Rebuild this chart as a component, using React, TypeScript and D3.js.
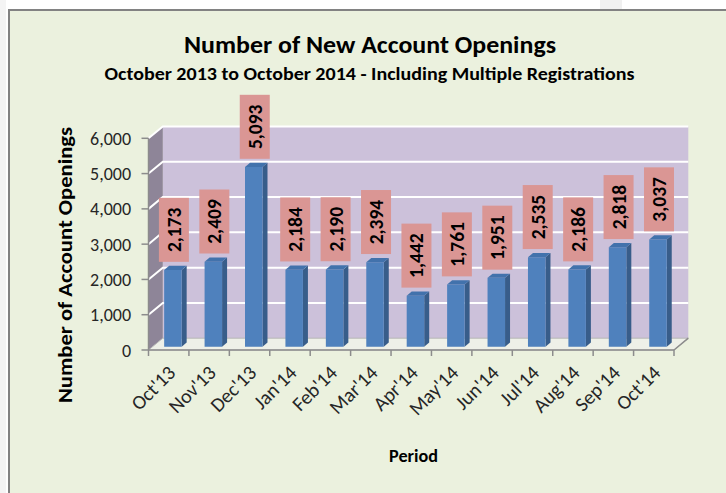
import React from "react";
import * as d3 from "d3";

const categories = ["Oct'13","Nov'13","Dec'13","Jan'14","Feb'14","Mar'14","Apr'14","May'14","Jun'14","Jul'14","Aug'14","Sep'14","Oct'14"];
const values = [2173, 2409, 5093, 2184, 2190, 2394, 1442, 1761, 1951, 2535, 2186, 2818, 3037];
const yTicks = [0, 1000, 2000, 3000, 4000, 5000, 6000];
const titleText = "Number of New Account Openings";
const subtitleText = "October 2013 to October 2014 - Including Multiple Registrations";
const yTitle = "Number of Account Openings";
const xTitle = "Period";

const W = 726, H = 493;
const FONT = "Carlito, Lato, 'Open Sans', sans-serif";

export default function App() {
  const x0 = 148.5, x1 = 674;
  const y0 = 350, yTop = 138.3;
  const DX = 14.3, DY = -11.8;
  const x = d3.scaleBand<string>().domain(categories).range([x0, x1]).padding(0);
  const y = d3.scaleLinear().domain([0, 6000]).range([y0, yTop]);
  const fmt = d3.format(",");

  const bOffX = 4.2, bOffY = -3.3;
  const bDepthX = 5, bDepthY = -4.2;
  const bw = 17.5;

  return (
    <svg width={W} height={H} style={{ position: "absolute", left: 0, top: 0 }} xmlns="http://www.w3.org/2000/svg">
      <rect x={0} y={0} width={W} height={H} fill="#ffffff" />
      <rect x={0} y={0} width={6} height={H} fill="#f4f4f4" />
      <rect x={600} y={0} width={22} height={22} fill="#f0f0f0" />
      <rect x={9} y={10} width={W + 20} height={H + 20} fill="#EBF1DE" stroke="#828282" strokeWidth={2} />

      <text x={370} y={53} textAnchor="middle" fontFamily={FONT} fontWeight="bold" fontSize={25} fill="#000" textLength={372} lengthAdjust="spacingAndGlyphs">{titleText}</text>
      <text x={369.5} y={80} textAnchor="middle" fontFamily={FONT} fontWeight="bold" fontSize={18.5} fill="#000" textLength={530} lengthAdjust="spacingAndGlyphs">{subtitleText}</text>

      <rect x={x0 + DX} y={yTop + DY} width={x1 - x0} height={y0 - yTop} fill="#CCC1DA" />
      <polygon points={`${x0},${y0} ${x0},${yTop} ${x0 + DX},${yTop + DY} ${x0 + DX},${y0 + DY}`} fill="#8E8598" />
      <polygon points={`${x0},${y0} ${x1},${y0} ${x1 + DX},${y0 + DY} ${x0 + DX},${y0 + DY}`} fill="#EEF0E8" stroke="#B5B5B5" strokeWidth={1} />

      {yTicks.filter(t => t > 0).map(t => (
        <polyline key={t} points={`${x0},${y(t)} ${x0 + DX},${y(t) + DY} ${x1 + DX},${y(t) + DY}`} fill="none" stroke="#ffffff" strokeWidth={2} />
      ))}

      <line x1={x0} x2={x0} y1={y0} y2={yTop} stroke="#8C8C8C" strokeWidth={1.5} />
      {yTicks.map(t => (
        <g key={t}>
          <line x1={x0 - 7} x2={x0} y1={y(t)} y2={y(t)} stroke="#8C8C8C" strokeWidth={1.5} />
          <text x={131} y={y(t) + 6.5} textAnchor="end" fontFamily={FONT} fontSize={18} fill="#262626">{fmt(t)}</text>
        </g>
      ))}

      <line x1={x0} x2={x1} y1={y0} y2={y0} stroke="#8C8C8C" strokeWidth={1.5} />
      <line x1={x1} x2={x1 + DX} y1={y0} y2={y0 + DY} stroke="#8C8C8C" strokeWidth={1.5} />
      {categories.map((c, i) => (
        <line key={"t" + i} x1={x(c)!} x2={x(c)!} y1={y0} y2={y0 + 6} stroke="#8C8C8C" strokeWidth={1.5} />
      ))}
      <line x1={x1} x2={x1} y1={y0} y2={y0 + 6} stroke="#8C8C8C" strokeWidth={1.5} />

      {categories.map((c, i) => {
        const v = values[i];
        const cx = x(c)! + x.bandwidth() / 2 + bOffX;
        const bx = cx - bw / 2;
        const by0 = y0 + bOffY;
        const by1 = y(v) + bOffY;
        const front = `${bx},${by0} ${bx + bw},${by0} ${bx + bw},${by1} ${bx},${by1}`;
        const side = `${bx + bw},${by0} ${bx + bw + bDepthX},${by0 + bDepthY} ${bx + bw + bDepthX},${by1 + bDepthY} ${bx + bw},${by1}`;
        const top = `${bx},${by1} ${bx + bw},${by1} ${bx + bw + bDepthX},${by1 + bDepthY} ${bx + bDepthX},${by1 + bDepthY}`;
        const boxW = 30, boxH = 64;
        const boxBottom = by1 + bDepthY - 4;
        const boxCx = cx + 1;
        return (
          <g key={c}>
            <polygon points={side} fill="#385D8A" />
            <polygon points={front} fill="#4F81BD" />
            <polygon points={top} fill="#4272AC" />
            <rect x={boxCx - boxW / 2} y={boxBottom - boxH} width={boxW} height={boxH} fill="#DA9694" />
            <text transform={`translate(${boxCx + 7},${boxBottom - boxH / 2}) rotate(-90)`} textAnchor="middle" fontFamily={FONT} fontWeight="bold" fontSize={19.5} fill="#000">{fmt(v)}</text>
          </g>
        );
      })}

      {categories.map((c) => {
        const cx = x(c)! + x.bandwidth() / 2;
        return (
          <text key={"l" + c} transform={`translate(${cx + 8},${y0 + 24}) rotate(-45)`} textAnchor="end" fontFamily={FONT} fontSize={20} fill="#262626">{c}</text>
        );
      })}

      <text transform={`translate(72,265) rotate(-90)`} textAnchor="middle" fontFamily={FONT} fontWeight="bold" fontSize={20} fill="#000" textLength={276} lengthAdjust="spacingAndGlyphs">{yTitle}</text>
      <text x={413.5} y={462} textAnchor="middle" fontFamily={FONT} fontWeight="bold" fontSize={19} fill="#000" textLength={49} lengthAdjust="spacingAndGlyphs">{xTitle}</text>
    </svg>
  );
}
